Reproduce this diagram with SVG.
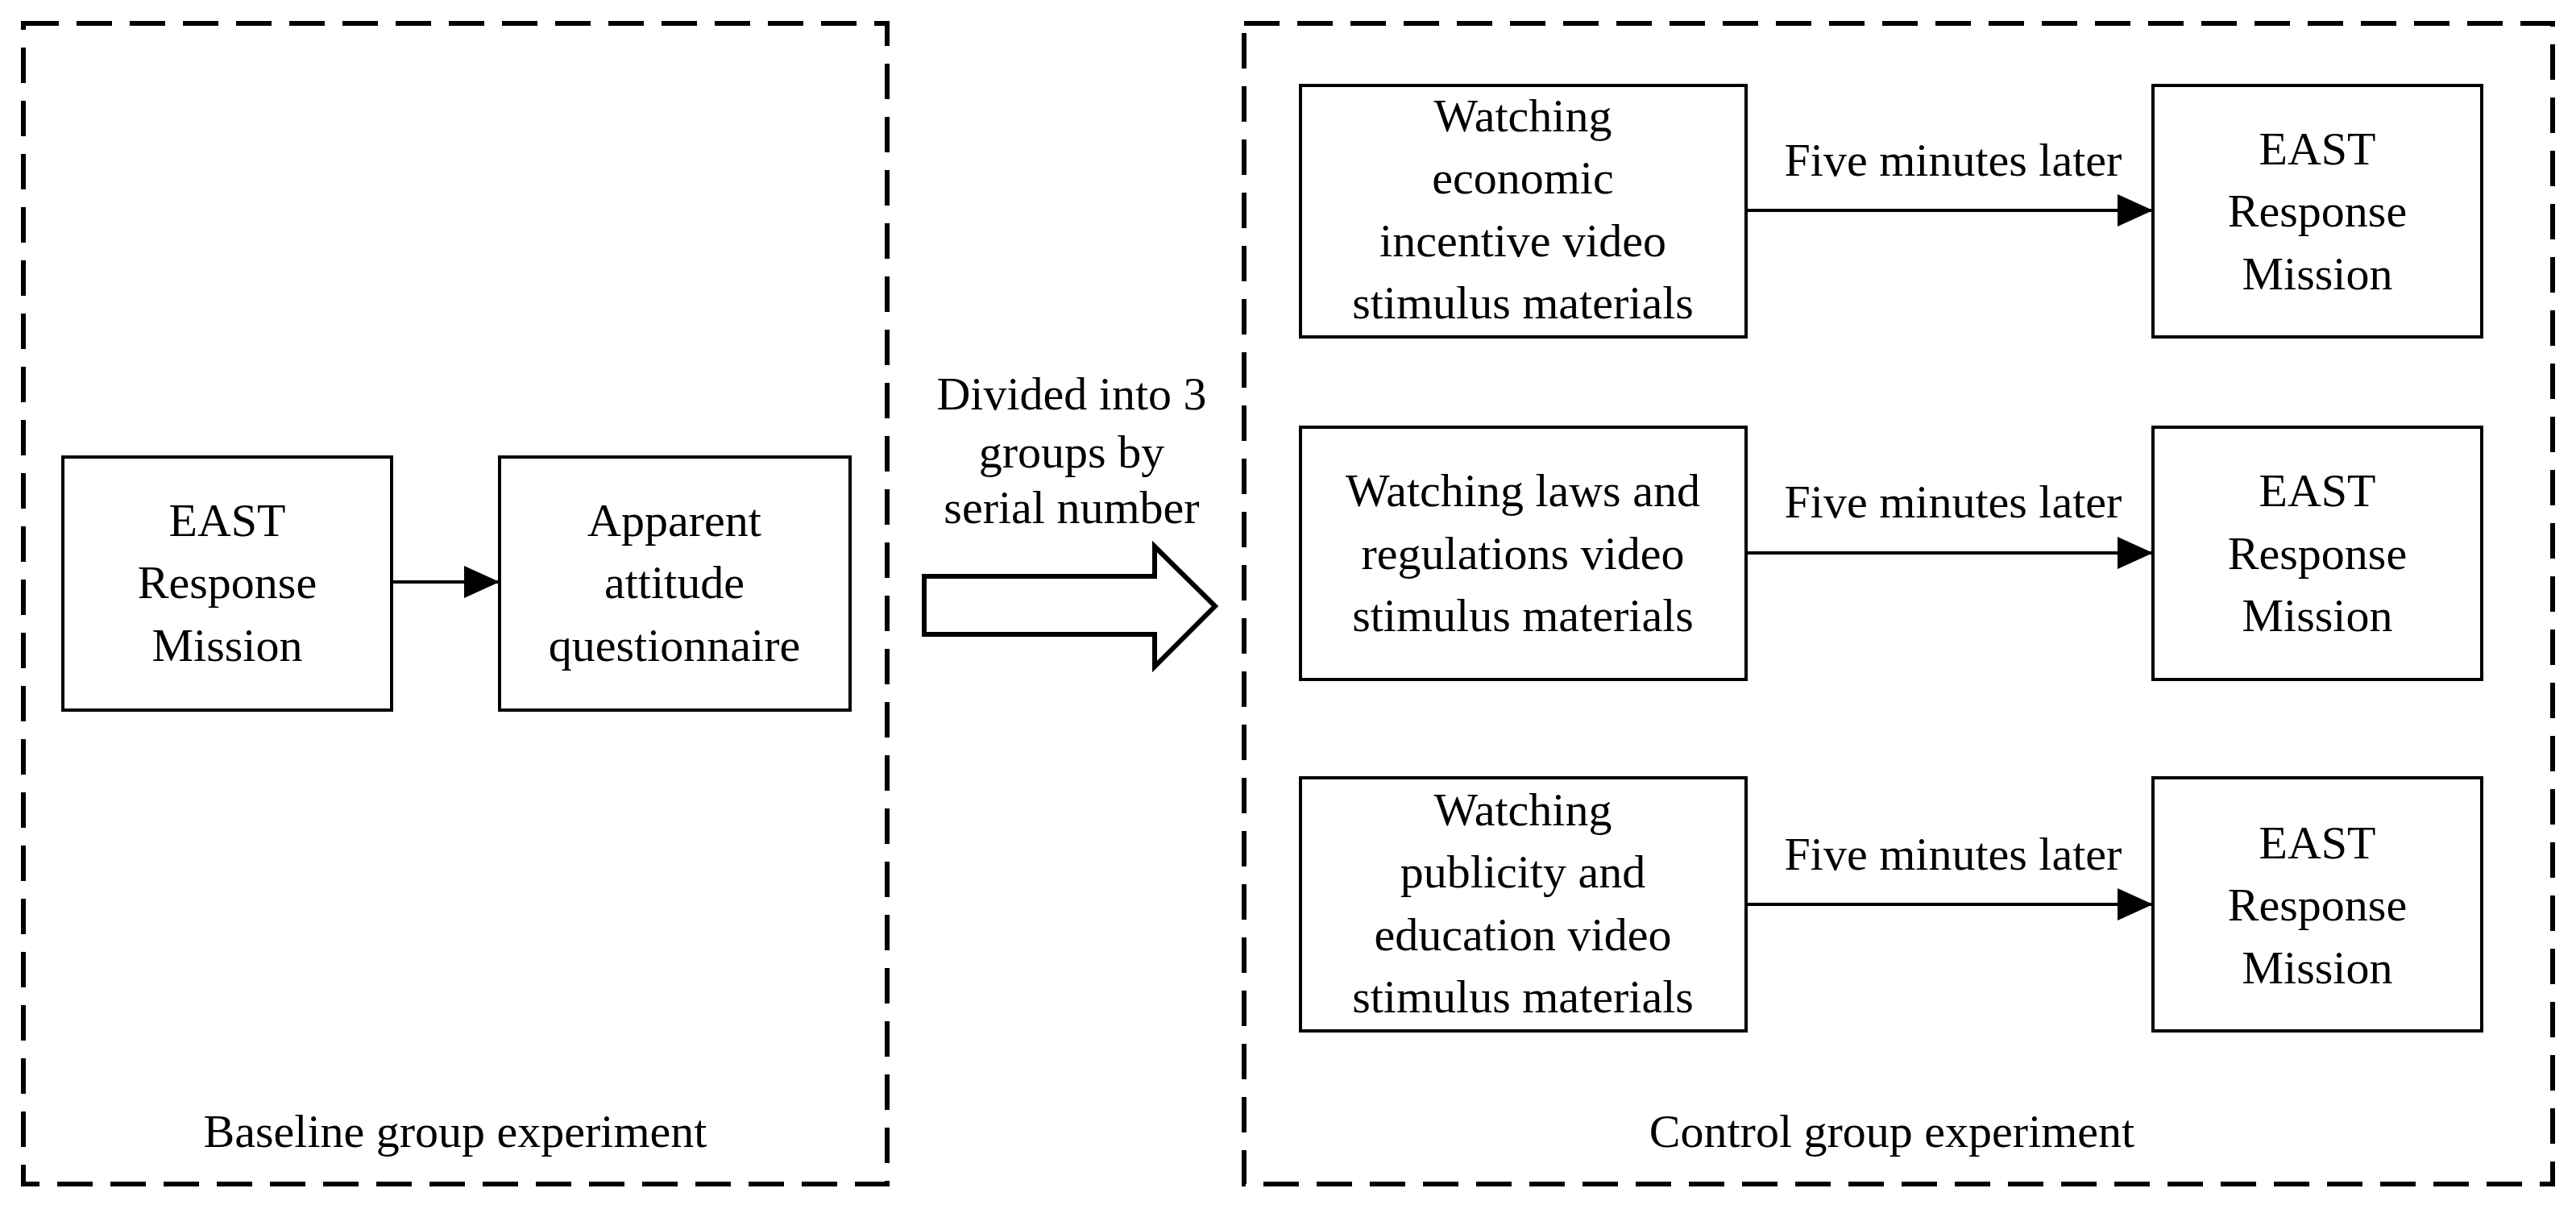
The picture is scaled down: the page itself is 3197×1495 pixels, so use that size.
<svg xmlns="http://www.w3.org/2000/svg" width="3197" height="1495" viewBox="0 0 3197 1495">
<style>
text{font-family:"Liberation Serif","Times New Roman",serif;font-size:58px;fill:#000;text-anchor:middle;dominant-baseline:central}
text.bl{dominant-baseline:alphabetic}
.dash{fill:none;stroke:#000;stroke-width:6;stroke-dasharray:44 22}
.box{fill:#fff;stroke:#000;stroke-width:4}
.ln{stroke:#000;stroke-width:4;fill:none}
</style>
<defs><marker id="ah" markerUnits="userSpaceOnUse" markerWidth="46" markerHeight="40" refX="44" refY="20" orient="auto"><path d="M0,0 L44,20 L0,40 Z" fill="#000"/></marker></defs>
<rect fill="#fff" width="3197" height="1495"/>
<g id="baseline"><rect class="dash" x="29" y="29" width="1072" height="1440"/><text x="565" y="1403">Baseline group experiment</text></g>
<g id="control"><rect class="dash" x="1544" y="29" width="1624" height="1440"/><text x="2348" y="1403">Control group experiment</text></g>
<g id="east0"><rect class="box" x="78" y="567" width="408" height="314"/><text x="282" y="645">EAST</text><text x="282" y="722">Response</text><text x="282" y="800">Mission</text></g>
<g id="quest"><rect class="box" x="620" y="567" width="435" height="314"/><text x="837" y="645">Apparent</text><text x="837" y="722">attitude</text><text x="837" y="800">questionnaire</text></g>
<g id="w1"><rect class="box" x="1614" y="106" width="553" height="312"/><text x="1890" y="143">Watching</text><text x="1890" y="220">economic</text><text x="1890" y="298">incentive video</text><text x="1890" y="375">stimulus materials</text></g>
<g id="w2"><rect class="box" x="1614" y="530" width="553" height="313"/><text x="1890" y="608">Watching laws and</text><text x="1890" y="686">regulations video</text><text x="1890" y="763">stimulus materials</text></g>
<g id="w3"><rect class="box" x="1614" y="965" width="553" height="314"/><text x="1890" y="1004">Watching</text><text x="1890" y="1081">publicity and</text><text x="1890" y="1159">education video</text><text x="1890" y="1236">stimulus materials</text></g>
<g id="e1"><rect class="box" x="2672" y="106" width="408" height="312"/><text x="2876" y="184">EAST</text><text x="2876" y="261">Response</text><text x="2876" y="339">Mission</text></g>
<g id="e2"><rect class="box" x="2672" y="530" width="408" height="313"/><text x="2876" y="608">EAST</text><text x="2876" y="686">Response</text><text x="2876" y="763">Mission</text></g>
<g id="e3"><rect class="box" x="2672" y="965" width="408" height="314"/><text x="2876" y="1045">EAST</text><text x="2876" y="1122">Response</text><text x="2876" y="1200">Mission</text></g>
<g id="connectors">
<line class="ln" x1="486" y1="722" x2="620" y2="722" marker-end="url(#ah)"/>
<line class="ln" x1="2167" y1="261" x2="2672" y2="261" marker-end="url(#ah)"/>
<line class="ln" x1="2167" y1="686" x2="2672" y2="686" marker-end="url(#ah)"/>
<line class="ln" x1="2167" y1="1122" x2="2672" y2="1122" marker-end="url(#ah)"/>
<text x="2424" y="198">Five minutes later</text>
<text x="2424" y="622">Five minutes later</text>
<text x="2424" y="1059">Five minutes later</text>
<path class="ln" style="stroke-width:6" d="M1147,715 L1433,715 L1433,678 L1508,752 L1433,827 L1433,787 L1147,787 Z" fill="#fff"/>
<text class="bl" x="1330" y="508">Divided into 3</text>
<text class="bl" x="1330" y="580">groups by</text>
<text class="bl" x="1330" y="649">serial number</text>
</g>
</svg>
